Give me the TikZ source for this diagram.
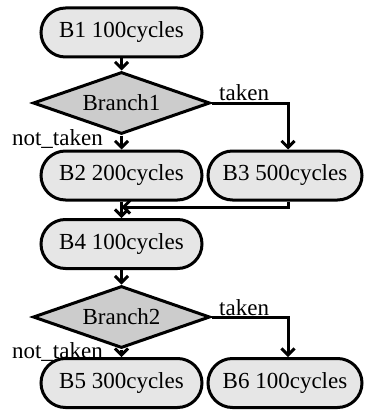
\documentclass[tikz,border=0pt]{standalone}
\usepackage{fontspec}
\setmainfont{Liberation Serif}
\usetikzlibrary{shapes.misc,shapes.geometric,arrows.meta}
\definecolor{boxfill}{HTML}{E6E6E6}
\definecolor{diafill}{HTML}{CCCCCC}
\tikzset{
  blk/.style={rounded rectangle, draw, line width=3pt, fill=boxfill, minimum height=49pt, inner sep=0pt, font=\fontsize{23}{26}\selectfont},
  decis/.style={diamond, aspect=2.85, draw, line width=3pt, fill=diafill, minimum width=177pt, minimum height=62pt, inner sep=0pt, font=\fontsize{23}{26}\selectfont},
  lbl/.style={font=\fontsize{23}{26}\selectfont, inner sep=0pt},
  conn/.style={line width=3pt, -{Straight Barb[length=6.5pt,width=13pt]}}
}
\begin{document}
\begin{tikzpicture}[x=1pt,y=-1pt]
\useasboundingbox (0,0) rectangle (370,412);
\node[blk, minimum width=161pt] (b1) at (121.5,32.5) {B1 100cycles};
\node[decis] (br1) at (121.5,103) {Branch1};
\node[blk, minimum width=161pt] (b2) at (121.5,175.5) {B2 200cycles};
\node[blk, minimum width=154pt] (b3) at (285,175.5) {B3 500cycles};
\node[blk, minimum width=161pt] (b4) at (121.5,244) {B4 100cycles};
\node[decis] (br2) at (121.5,317) {Branch2};
\node[blk, minimum width=161pt] (b5) at (121.5,383) {B5 300cycles};
\node[blk, minimum width=154pt] (b6) at (285,383) {B6 100cycles};
\coordinate (m1) at (288,207);
\coordinate (j1) at (121.5,207);
\node[lbl, anchor=base west] (t1) at (219,100) {taken};
\node[lbl, anchor=base east] (n1) at (103,145) {not\_taken};
\node[lbl, anchor=base west] (t2) at (219,315) {taken};
\node[lbl, anchor=base east] (n2) at (103,358) {not\_taken};
\draw[conn] (b1.south) -- (br1.north);
\draw[conn] (br1.south) -- (b2.north);
\draw[conn] (br1.east) -| (b3.north -| m1);
\draw[conn] (b2.south) -- (b4.north);
\draw[conn] (b3.south -| m1) -- (m1) -- (j1);
\draw[conn] (b4.south) -- (br2.north);
\draw[conn] (br2.south) -- (b5.north);
\draw[conn] (br2.east) -| (b6.north -| m1);
\end{tikzpicture}
\end{document}
